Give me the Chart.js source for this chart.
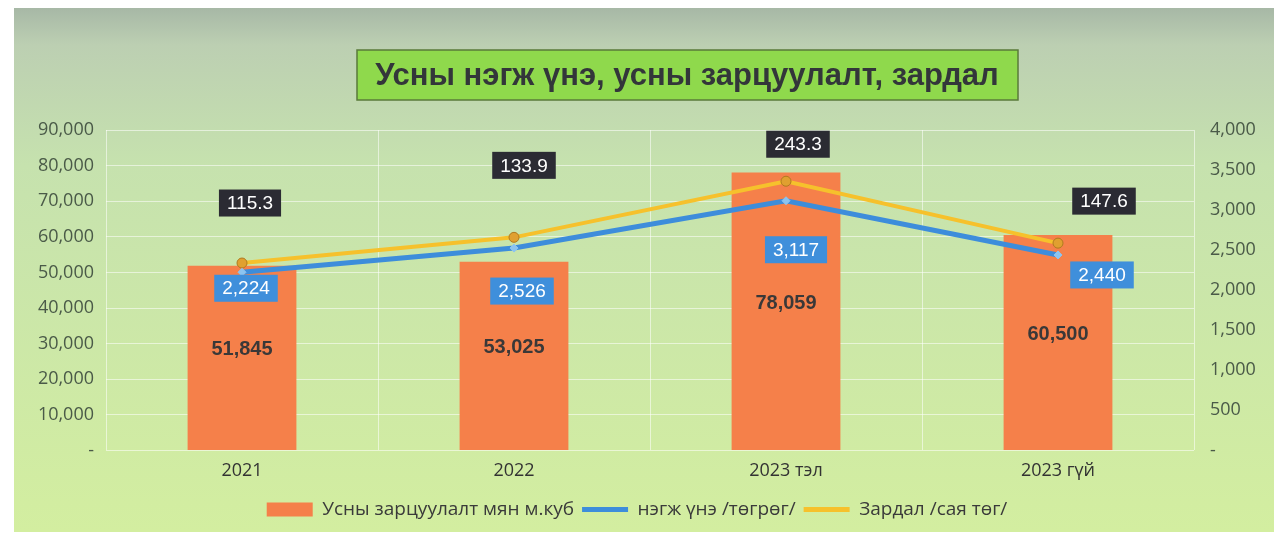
<!DOCTYPE html>
<html lang="mn">
<head>
<meta charset="UTF-8">
<title>Усны нэгж үнэ, усны зарцуулалт, зардал</title>
<script src="https://cdn.jsdelivr.net/npm/chart.js"></script>
<style>
  html, body { margin: 0; padding: 0; background: #ffffff; }
  #wrap { width: 1274px; height: 549px; }
</style>
</head>
<body>
<div id="wrap"><canvas id="waterChart" width="1274" height="549"></canvas></div>
<script>
const categories = ["2021", "2022", "2023 тэл", "2023 гүй"];
const consumption = [51845, 53025, 78059, 60500];   // мян м.куб
const unitPrice = [2224, 2526, 3117, 2440];          // төгрөг
const cost = [115.3, 133.9, 243.3, 147.6];           // сая төг
const leftTicks = [0, 10000, 20000, 30000, 40000, 50000, 60000, 70000, 80000, 90000];
const rightTicks = [0, 500, 1000, 1500, 2000, 2500, 3000, 3500, 4000];

const fmt = v => v === 0 ? "-" : v.toLocaleString("en-US");

// background + title box
const backdrop = {
  id: 'backdrop',
  beforeDraw(chart) {
    const c = chart.ctx;
    c.save();
    const g = c.createLinearGradient(0, 8, 0, 532);
    g.addColorStop(0, '#a7b8a6');
    g.addColorStop(0.07, '#bccfb2');
    g.addColorStop(0.3, '#c6e2ae');
    g.addColorStop(1, '#d3eea0');
    c.fillStyle = g;
    c.fillRect(14, 8, 1260, 524);
    c.restore();
  },
  afterDraw(chart) {
    const c = chart.ctx;
    c.save();
    c.fillStyle = '#8fd94c';
    c.fillRect(357, 50, 661, 50);
    c.strokeStyle = '#5a7a3a';
    c.lineWidth = 1.5;
    c.strokeRect(357, 50, 661, 50);
    c.fillStyle = '#33363a';
    c.font = 'bold 31px "Liberation Sans", Arial, sans-serif';
    c.textAlign = 'center';
    c.textBaseline = 'middle';
    c.fillText('Усны нэгж үнэ, усны зарцуулалт, зардал', 687, 76);
    c.restore();
  }
};

// value labels
const valueLabels = {
  id: 'valueLabels',
  afterDatasetsDraw(chart, args, opts) {
    const c = chart.ctx;
    c.save();
    c.textAlign = 'center';
    c.textBaseline = 'middle';
    const box = (text, x, y, bg) => {
      c.font = '19px "Liberation Sans", Arial, sans-serif';
      const w = c.measureText(text).width + 16;
      const h = 27;
      c.fillStyle = bg;
      c.fillRect(x - w / 2, y - h / 2, w, h);
      c.fillStyle = '#ffffff';
      c.fillText(text, x, y + 1);
    };
    // bars
    chart.getDatasetMeta(0).data.forEach((el, i) => {
      c.font = 'bold 20px "Liberation Sans", Arial, sans-serif';
      c.fillStyle = '#3a3838';
      c.fillText(consumption[i].toLocaleString('en-US'), el.x, (el.y + el.base) / 2 - 8);
    });
    // unit price
    chart.getDatasetMeta(1).data.forEach((el, i) => {
      const o = opts.blueOffsets[i];
      box(unitPrice[i].toLocaleString('en-US'), el.x + o[0], el.y + o[1], '#3f8fdb');
    });
    // cost
    chart.getDatasetMeta(2).data.forEach((el, i) => {
      const o = opts.darkOffsets[i];
      box(cost[i].toFixed(1), el.x + o[0], el.y + o[1], '#2b2b33');
    });
    c.restore();
  }
};

new Chart(document.getElementById('waterChart'), {
  data: {
    labels: categories,
    datasets: [
      {
        type: 'bar',
        label: 'Усны зарцуулалт мян м.куб',
        data: consumption,
        yAxisID: 'y',
        backgroundColor: '#f5804a',
        barPercentage: 0.4,
        categoryPercentage: 1,
        order: 3
      },
      {
        type: 'line',
        label: 'нэгж үнэ /төгрөг/',
        data: unitPrice,
        yAxisID: 'y1',
        stack: 'lines',
        borderColor: '#3d8ddb',
        backgroundColor: '#8cc4f0',
        borderWidth: 5,
        pointStyle: 'rectRot',
        pointRadius: 4,
        pointBorderWidth: 1,
        pointBorderColor: '#8cc4f0',
        tension: 0,
        fill: false,
        order: 1
      },
      {
        type: 'line',
        label: 'Зардал /сая төг/',
        data: cost,
        yAxisID: 'y1',
        stack: 'lines',
        borderColor: '#f6c12c',
        backgroundColor: '#e0a030',
        borderWidth: 4,
        pointStyle: 'circle',
        pointRadius: 5,
        pointBorderWidth: 1,
        pointBorderColor: '#b07a20',
        tension: 0,
        fill: false,
        order: 2
      }
    ]
  },
  options: {
    responsive: false,
    animation: false,
    layout: { padding: { left: 14, right: 14, top: 130, bottom: 20 } },
    plugins: {
      title: { display: false },
      tooltip: { enabled: false },
      legend: {
        position: 'bottom',
        labels: {
          color: '#3a3a3a',
          font: { size: 19, family: '"Open Sans", "Liberation Sans", sans-serif' },
          usePointStyle: true,
          pointStyleWidth: 46,
          boxHeight: 14,
          padding: 8,
          generateLabels(chart) {
            return chart.data.datasets.map((ds, i) => ({
              text: ds.label,
              fillStyle: i === 0 ? ds.backgroundColor : ds.borderColor,
              strokeStyle: i === 0 ? ds.backgroundColor : ds.borderColor,
              lineWidth: i === 0 ? 0 : 5,
              pointStyle: i === 0 ? 'rect' : 'line',
              hidden: false,
              datasetIndex: i,
              fontColor: '#3a3a3a'
            }));
          }
        }
      },
      valueLabels: {
        blueOffsets: [[4, 16], [8, 43], [10, 49], [44, 20]],
        darkOffsets: [[8, -60], [10, -72], [12, -37], [46, -42]]
      }
    },
    scales: {
      x: {
        offset: true,
        grid: { offset: true, color: 'rgba(255,255,255,0.55)', drawTicks: false },
        border: { display: false },
        ticks: {
          color: '#333333',
          padding: 10,
          font: { size: 18, family: '"Open Sans", "Liberation Sans", sans-serif' }
        }
      },
      y: {
        position: 'left',
        min: 0,
        max: 90000,
        afterBuildTicks(axis) { axis.ticks = leftTicks.map(v => ({ value: v })); },
        afterFit(axis) { axis.width = 92; },
        grid: { color: 'rgba(255,255,255,0.55)', drawTicks: false },
        border: { display: false },
        ticks: {
          color: '#4a5a48',
          padding: 12,
          callback: v => fmt(v),
          font: { size: 18, family: '"Open Sans", "Liberation Sans", sans-serif' }
        }
      },
      y1: {
        position: 'right',
        stacked: true,
        min: 0,
        max: 4000,
        afterBuildTicks(axis) { axis.ticks = rightTicks.map(v => ({ value: v })); },
        afterFit(axis) { axis.width = 66; },
        grid: { display: false },
        border: { display: false },
        ticks: {
          color: '#4a5a48',
          padding: 8,
          callback: v => fmt(v),
          font: { size: 18, family: '"Open Sans", "Liberation Sans", sans-serif' }
        }
      }
    }
  },
  plugins: [backdrop, valueLabels]
});
</script>
</body>
</html>
